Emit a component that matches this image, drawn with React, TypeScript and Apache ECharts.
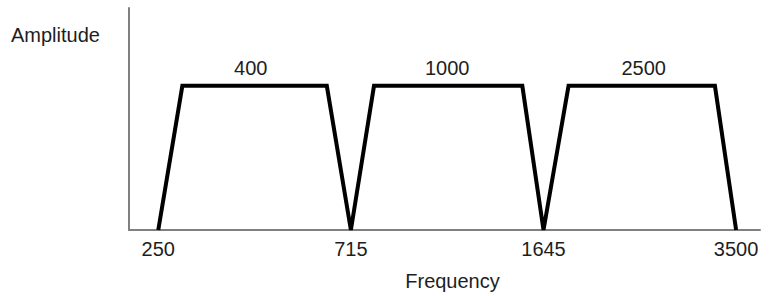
import React, { useEffect, useRef } from "react";
import * as echarts from "echarts";

// Edge frequencies (tick labels) at axis positions 0..3
const edgePositions = [0, 1, 2, 3];
const edgeLabels = ["250", "715", "1645", "3500"];

// Band centre frequencies and where their labels sit on the axis
const bandLabels = ["400", "1000", "2500"];
const bandLabelX = [0.48, 1.5, 2.52];
const bandLabelAmp = [1, 1, 1];

// Trapezoid outline points (axis position, amplitude)
const outlineX = [0, 0.125, 0.875, 1, 1.12, 1.89, 2, 2.13, 2.89, 3];
const outlineAmp = [0, 1, 1, 0, 1, 1, 0, 1, 1, 0];

const FONT = "Liberation Sans, Arial, Helvetica, sans-serif";
const FS = 20;
const TXT = "#1e1e1e";

export default function App() {
  const ref = useRef<HTMLDivElement>(null);

  useEffect(() => {
    document.body.style.margin = "0";
    if (!ref.current) return;
    const chart = echarts.init(ref.current, undefined, { renderer: "svg" });
    chart.setOption({
      animation: false,
      grid: {
        left: 129,
        right: 10,
        top: 8,
        bottom: 66,
        containLabel: false,
        outerBoundsMode: "none",
      },
      xAxis: {
        type: "value",
        min: -0.152,
        max: 3.124,
        name: "Frequency",
        nameLocation: "middle",
        nameGap: 41,
        nameTextStyle: { fontSize: FS, color: TXT, fontFamily: FONT, padding: [0, 0, 0, 16] },
        axisLine: { show: true, onZero: false, lineStyle: { color: "#808080", width: 2 } },
        axisTick: { show: false },
        splitLine: { show: false },
        axisLabel: {
          customValues: edgePositions,
          formatter: (v: number) => edgeLabels[edgePositions.indexOf(Math.round(v))] ?? "",
          fontSize: FS,
          color: TXT,
          fontFamily: FONT,
          margin: 9,
        },
      },
      yAxis: {
        type: "value",
        min: 0,
        max: 1.54,
        axisLine: { show: true, onZero: false, lineStyle: { color: "#808080", width: 2 } },
        axisTick: { show: false },
        axisLabel: { show: false },
        splitLine: { show: false },
      },
      graphic: [
        {
          type: "text",
          left: 11,
          top: 25,
          style: { text: "Amplitude", fontSize: FS, fill: TXT, fontFamily: FONT },
        },
      ],
      series: [
        {
          type: "line",
          data: outlineX.map((x, i) => [x, outlineAmp[i]]),
          symbol: "none",
          lineStyle: { color: "#000", width: 4, join: "miter" },
          z: 3,
        },
        {
          type: "scatter",
          data: bandLabelX.map((x, i) => [x, bandLabelAmp[i]]),
          symbolSize: 0,
          itemStyle: { opacity: 1 },
          label: {
            show: true,
            position: "top",
            distance: 8,
            formatter: (p: any) => bandLabels[p.dataIndex],
            fontSize: FS,
            color: TXT,
            fontFamily: FONT,
          },
        },
      ],
    });
    return () => chart.dispose();
  }, []);

  return <div ref={ref} style={{ width: 770, height: 296 }} />;
}
